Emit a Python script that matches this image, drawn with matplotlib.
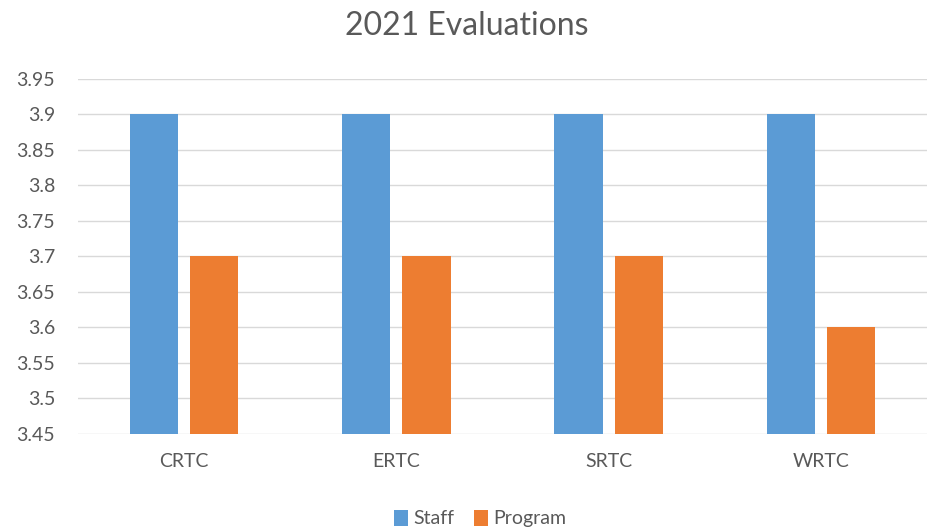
import numpy as np
import matplotlib.pyplot as plt

plt.rcParams['font.family'] = ['Lato', 'DejaVu Sans']

categories = ['CRTC', 'ERTC', 'SRTC', 'WRTC']
staff = [3.9, 3.9, 3.9, 3.9]
program = [3.7, 3.7, 3.7, 3.6]
yticks = [3.45, 3.5, 3.55, 3.6, 3.65, 3.7, 3.75, 3.8, 3.85, 3.9, 3.95]
ytick_labels = ['3.45', '3.5', '3.55', '3.6', '3.65', '3.7', '3.75', '3.8', '3.85', '3.9', '3.95']

blue = '#5B9BD5'
orange = '#ED7D31'
text_col = '#595959'

fig = plt.figure(figsize=(9.33, 5.29), dpi=100)
ax = fig.add_axes([0.0836, 0.1796, 0.9100, 0.6711])

x = np.arange(len(categories))
w = 0.227
gap = 0.057
ax.bar(x - (w + gap) / 2, staff, width=w, color=blue, label='Staff', zorder=3)
ax.bar(x + (w + gap) / 2, program, width=w, color=orange, label='Program', zorder=3)

ax.set_xlim(-0.5, len(categories) - 0.5)
ax.set_ylim(3.45, 3.95)
ax.set_yticks(yticks)
ax.set_yticklabels(ytick_labels)
ax.set_xticks(x)
ax.set_xticklabels(categories)
ax.tick_params(axis='both', length=0, labelsize=14, colors=text_col)
ax.tick_params(axis='x', pad=14)
ax.tick_params(axis='y', pad=16.5)

ax.grid(axis='y', color='#D9D9D9', linewidth=1, zorder=0)
for s in ax.spines.values():
    s.set_visible(False)

fig.suptitle('2021 Evaluations', y=0.98, fontsize=23, color=text_col)
fig.legend(loc='lower center', bbox_to_anchor=(0.515, -0.03), ncol=2, frameon=False,
           fontsize=14, labelcolor=text_col, handlelength=0.7, handleheight=0.9,
           handletextpad=0.3, columnspacing=1.0)

fig.savefig('out.png', dpi=100)
